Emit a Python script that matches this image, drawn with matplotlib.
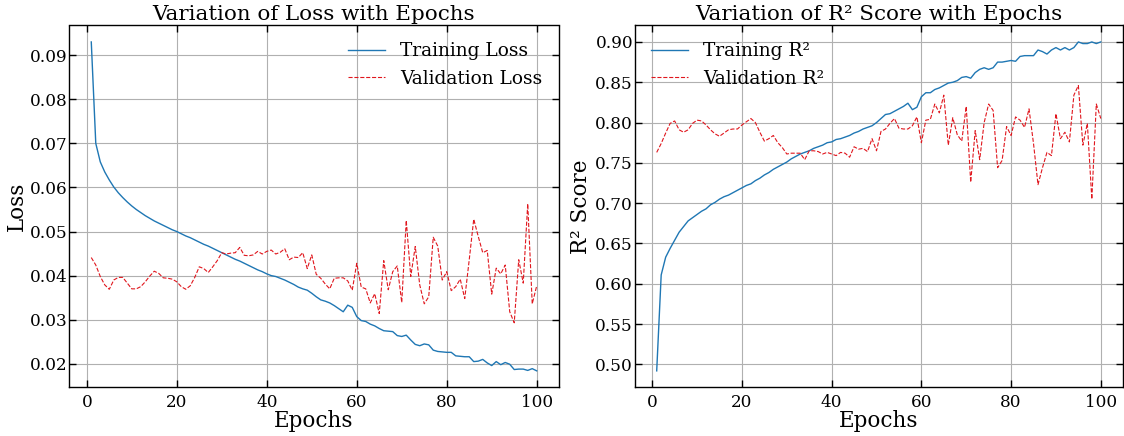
import numpy as np
import matplotlib
matplotlib.use("Agg")
import matplotlib.pyplot as plt

epochs = list(range(1, 101))

train_loss = [
    0.0930, 0.0700, 0.0658, 0.0635, 0.0617, 0.0601, 0.0588, 0.0577, 0.0567, 0.0558,
    0.0550, 0.0543, 0.0536, 0.0530, 0.0524, 0.0519, 0.0514, 0.0509, 0.0504, 0.0500,
    0.0495, 0.0490, 0.0486, 0.0481, 0.0476, 0.0471, 0.0467, 0.0462, 0.0457, 0.0452,
    0.0447, 0.0442, 0.0437, 0.0433, 0.0428, 0.0423, 0.0418, 0.0413, 0.0409, 0.0404,
    0.0400, 0.0398, 0.0394, 0.0390, 0.0385, 0.0380, 0.0374, 0.0370, 0.0367, 0.0360,
    0.0352, 0.0345, 0.0342, 0.0338, 0.0332, 0.0325, 0.0318, 0.0333, 0.0328, 0.0307,
    0.0298, 0.0296, 0.0290, 0.0286, 0.0280, 0.0275, 0.0274, 0.0273, 0.0264, 0.0262,
    0.0265, 0.0254, 0.0244, 0.0241, 0.0245, 0.0243, 0.0231, 0.0228, 0.0227, 0.0226,
    0.0226, 0.0218, 0.0217, 0.0216, 0.0216, 0.0205, 0.0206, 0.0210, 0.0202, 0.0196,
    0.0205, 0.0198, 0.0203, 0.0199, 0.0187, 0.0188, 0.0188, 0.0185, 0.0189, 0.0184,
]

val_loss = [
    0.0441, 0.0424, 0.0398, 0.0379, 0.0369, 0.0390, 0.0396, 0.0396, 0.0383, 0.0370,
    0.0370, 0.0375, 0.0386, 0.0399, 0.0410, 0.0405, 0.0395, 0.0394, 0.0392, 0.0386,
    0.0375, 0.0369, 0.0377, 0.0396, 0.0420, 0.0416, 0.0407, 0.0420, 0.0434, 0.0452,
    0.0449, 0.0451, 0.0452, 0.0464, 0.0446, 0.0445, 0.0447, 0.0455, 0.0449, 0.0455,
    0.0458, 0.0449, 0.0453, 0.0461, 0.0436, 0.0442, 0.0441, 0.0452, 0.0416, 0.0447,
    0.0403, 0.0394, 0.0381, 0.0370, 0.0394, 0.0395, 0.0395, 0.0388, 0.0367, 0.0428,
    0.0374, 0.0370, 0.0338, 0.0359, 0.0314, 0.0434, 0.0368, 0.0409, 0.0422, 0.0339,
    0.0525, 0.0398, 0.0466, 0.0379, 0.0336, 0.0352, 0.0487, 0.0467, 0.0390, 0.0409,
    0.0366, 0.0375, 0.0392, 0.0348, 0.0436, 0.0528, 0.0489, 0.0452, 0.0457, 0.0358,
    0.0417, 0.0404, 0.0424, 0.0318, 0.0293, 0.0436, 0.0383, 0.0563, 0.0336, 0.0377,
]

train_r2 = [
    0.492, 0.611, 0.633, 0.644, 0.654, 0.664, 0.671, 0.678, 0.682, 0.686,
    0.690, 0.693, 0.698, 0.701, 0.705, 0.708, 0.710, 0.713, 0.716, 0.719,
    0.722, 0.724, 0.728, 0.731, 0.735, 0.738, 0.742, 0.745, 0.748, 0.751,
    0.755, 0.758, 0.761, 0.763, 0.765, 0.768, 0.770, 0.772, 0.775, 0.776,
    0.779, 0.780, 0.782, 0.784, 0.787, 0.789, 0.792, 0.794, 0.796, 0.800,
    0.805, 0.810, 0.811, 0.814, 0.817, 0.820, 0.824, 0.816, 0.819, 0.832,
    0.837, 0.837, 0.841, 0.843, 0.846, 0.849, 0.850, 0.852, 0.856, 0.857,
    0.855, 0.862, 0.866, 0.868, 0.866, 0.868, 0.875, 0.875, 0.876, 0.877,
    0.876, 0.882, 0.883, 0.883, 0.883, 0.890, 0.888, 0.885, 0.890, 0.893,
    0.890, 0.893, 0.890, 0.893, 0.900, 0.898, 0.898, 0.900, 0.898, 0.900,
]

val_r2 = [
    0.763, 0.774, 0.787, 0.799, 0.802, 0.791, 0.788, 0.791, 0.799, 0.803,
    0.802, 0.797, 0.791, 0.786, 0.783, 0.787, 0.791, 0.792, 0.792, 0.797,
    0.801, 0.805, 0.800, 0.788, 0.777, 0.780, 0.784, 0.775, 0.769, 0.761,
    0.762, 0.762, 0.762, 0.754, 0.765, 0.765, 0.764, 0.761, 0.763, 0.761,
    0.759, 0.763, 0.762, 0.757, 0.770, 0.767, 0.768, 0.764, 0.780, 0.765,
    0.789, 0.792, 0.799, 0.805, 0.793, 0.792, 0.792, 0.796, 0.807, 0.775,
    0.803, 0.804, 0.823, 0.812, 0.834, 0.772, 0.806, 0.785, 0.777, 0.820,
    0.726, 0.790, 0.754, 0.800, 0.823, 0.815, 0.744, 0.753, 0.795, 0.784,
    0.807, 0.803, 0.794, 0.817, 0.774, 0.723, 0.744, 0.763, 0.759, 0.811,
    0.780, 0.788, 0.776, 0.834, 0.846, 0.772, 0.799, 0.705, 0.823, 0.805,
]

loss_yticks = [0.02, 0.03, 0.04, 0.05, 0.06, 0.07, 0.08, 0.09]
r2_yticks = [0.50, 0.55, 0.60, 0.65, 0.70, 0.75, 0.80, 0.85, 0.90]
x_ticks = [0, 20, 40, 60, 80, 100]

plt.rcParams['font.family'] = ['DejaVu Serif']
plt.rcParams['mathtext.fontset'] = 'dejavuserif'

W, H = 1124, 436
fig = plt.figure(figsize=(W / 100, H / 100), dpi=100)

def pos(l, r, t, b):
    return [l / W, 1 - b / H, (r - l) / W, (b - t) / H]

ax1 = fig.add_axes(pos(69, 559, 25.5, 387.3))
ax2 = fig.add_axes(pos(634.5, 1123, 25.5, 387.3))

blue = '#1f77b4'
red = '#e0161d'

def style(ax):
    ax.grid(True, color='#b0b0b0', linewidth=0.8)
    ax.set_axisbelow(True)
    ax.tick_params(direction='in', top=True, right=True, length=5, width=1,
                   labelsize=12.2, pad=1)
    ax.tick_params(axis='x', pad=5)
    for s in ax.spines.values():
        s.set_linewidth(1.0)

ax1.plot(epochs, train_loss, color=blue, linewidth=1.0, label='Training Loss')
ax1.plot(epochs, val_loss, color=red, linewidth=0.8, linestyle='--', label='Validation Loss')
ax1.set_xticks(x_ticks)
ax1.set_yticks(loss_yticks)
ax1.set_yticklabels([f'{v:.2f}' for v in loss_yticks])
style(ax1)
ax1.set_title('Variation of Loss with Epochs', fontsize=15.4, pad=4)
ax1.set_xlabel('Epochs', fontsize=15.5, labelpad=-1)
ax1.set_ylabel('Loss', fontsize=15.5)
ax1.yaxis.set_label_coords(-0.084, 0.5)
ax1.legend(loc='upper right', frameon=False, fontsize=13.4)

ax2.plot(epochs, train_r2, color=blue, linewidth=1.0, label='Training R²')
ax2.plot(epochs, val_r2, color=red, linewidth=0.8, linestyle='--', label='Validation R²')
ax2.set_xticks(x_ticks)
ax2.set_yticks(r2_yticks)
ax2.set_yticklabels([f'{v:.2f}' for v in r2_yticks])
style(ax2)
ax2.set_title('Variation of R² Score with Epochs', fontsize=15.4, pad=4)
ax2.set_xlabel('Epochs', fontsize=15.5, labelpad=-1)
ax2.set_ylabel('R² Score', fontsize=15.5)
ax2.yaxis.set_label_coords(-0.087, 0.5)
ax2.legend(loc='upper left', frameon=False, fontsize=13.4)

fig.savefig('out.png', dpi=100)
